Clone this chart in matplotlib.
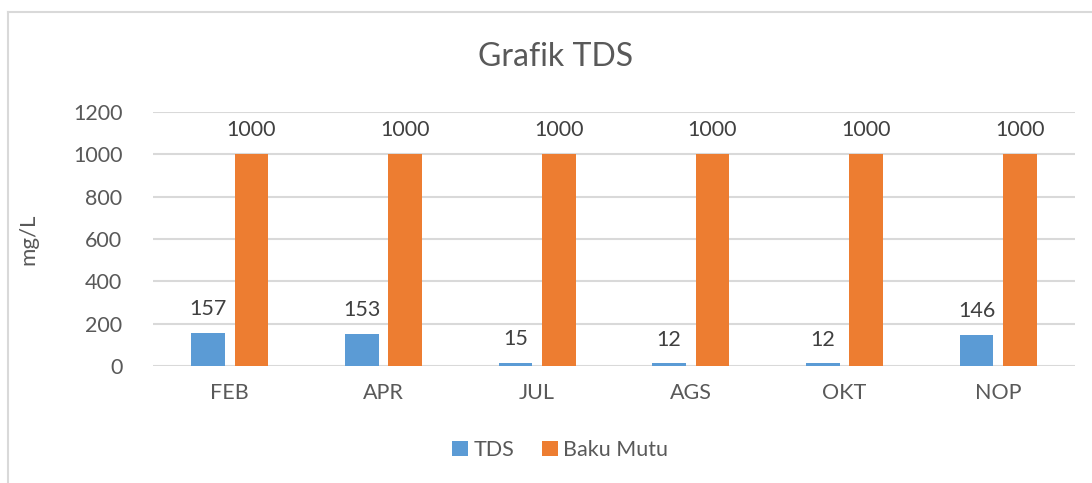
import matplotlib
matplotlib.use("Agg")
import matplotlib.pyplot as plt
import numpy as np

categories = ["FEB", "APR", "JUL", "AGS", "OKT", "NOP"]
tds = [157, 153, 15, 12, 12, 146]
baku_mutu = [1000, 1000, 1000, 1000, 1000, 1000]
yticks = [0, 200, 400, 600, 800, 1000, 1200]

plt.rcParams['font.family'] = ['Lato', 'DejaVu Sans']
txt = '#595959'
blue = '#5b9bd5'
orange = '#ed7d31'
fs = 15.5

W, H = 1092, 483
fig = plt.figure(figsize=(W/100, H/100), dpi=100)
ax = fig.add_axes([153/W, 1-366/H, (1075-153)/W, (366-112)/H])

x = np.arange(len(categories))
bw = 0.22
off = 0.141
b1 = ax.bar(x - off, tds, bw, color=blue, label='TDS', zorder=3)
b2 = ax.bar(x + off, baku_mutu, bw, color=orange, label='Baku Mutu', zorder=3)

for bars in (b1, b2):
    for r in bars:
        ax.annotate(f"{int(r.get_height())}", (r.get_x()+r.get_width()/2, r.get_height()),
                    xytext=(0, 10), textcoords='offset points', ha='center', va='bottom',
                    fontsize=fs, color='#404040')

ax.set_xlim(-0.5, len(categories)-0.5)
ax.set_ylim(0, 1200)
ax.set_yticks(yticks)
ax.set_yticklabels([str(v) for v in yticks])
ax.set_xticks(x)
ax.set_xticklabels(categories)
ax.tick_params(axis='both', length=0, labelsize=fs, labelcolor=txt)
ax.tick_params(axis='y', pad=22)
ax.tick_params(axis='x', pad=12)
ax.yaxis.grid(True, color='#d9d9d9', linewidth=1.5, zorder=0)
for s in ax.spines.values():
    s.set_visible(False)
ax.axhline(0, color='#d9d9d9', linewidth=1.8, zorder=2)
ax.set_ylabel('mg/L', fontsize=16, color=txt, fontweight='normal')
ax.yaxis.set_label_coords((38-153)/(1075-153), 0.5)

fig.text(556/W, 1-57/H, 'Grafik TDS', ha='center', va='center', fontsize=23, color=txt)

leg = fig.legend(handles=[b1, b2], labels=['TDS', 'Baku Mutu'], loc='center',
                 bbox_to_anchor=(560/W, 1-450/H), ncol=2, frameon=False,
                 fontsize=fs, handlelength=0.75, handleheight=0.75, handletextpad=0.25,
                 columnspacing=1.3)
for t in leg.get_texts():
    t.set_color(txt)

fig.add_artist(plt.Line2D([8/W, 8/W], [0, 1-12/H], transform=fig.transFigure, color='#d9d9d9', linewidth=1.5))
fig.add_artist(plt.Line2D([8/W, 1], [1-12/H, 1-12/H], transform=fig.transFigure, color='#d9d9d9', linewidth=1.5))

fig.savefig('out.png', dpi=100)
